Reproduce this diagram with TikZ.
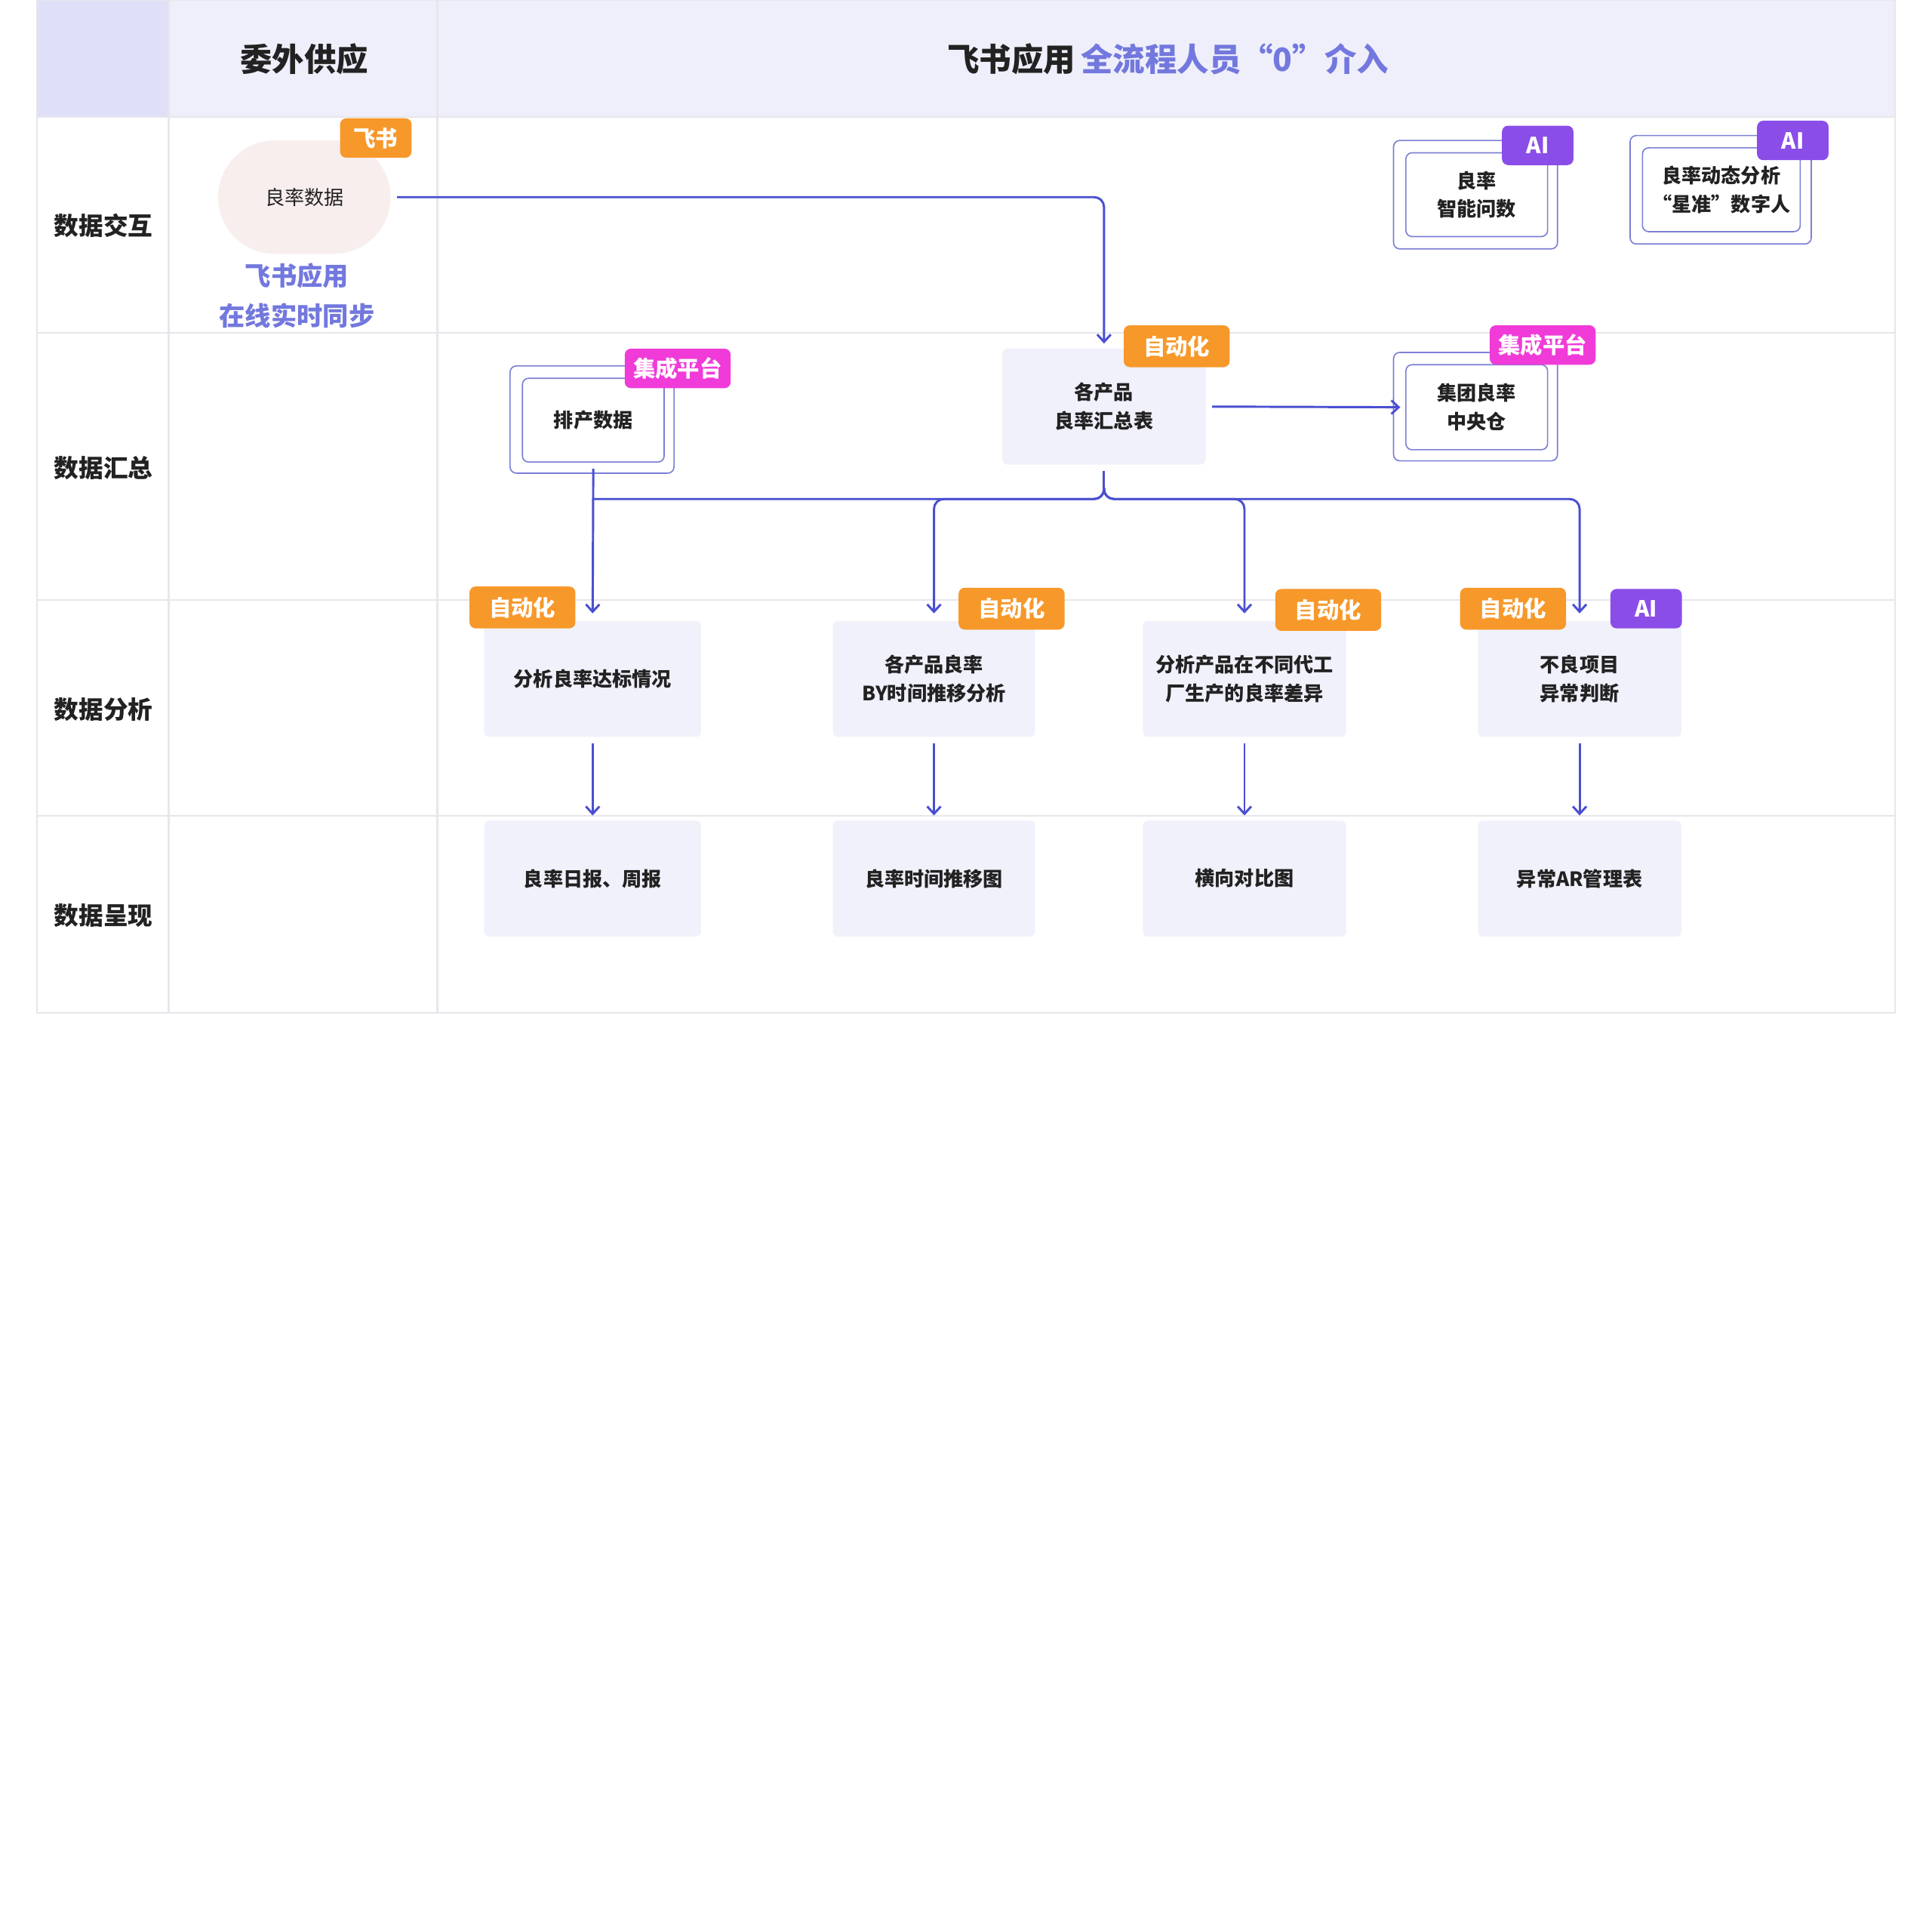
\documentclass[tikz,border=0pt]{standalone}
\usepackage{fontspec}
\setmainfont{Noto Sans CJK SC}
\usetikzlibrary{arrows.meta}
\definecolor{hdr}{HTML}{EEEFFA}
\definecolor{hdrd}{HTML}{DFE0F7}
\definecolor{grid}{HTML}{E6E6EC}
\definecolor{boxf}{HTML}{F0F1FA}
\definecolor{arr}{HTML}{4A4FD0}
\definecolor{org}{HTML}{F7982A}
\definecolor{mag}{HTML}{F03BD8}
\definecolor{pur}{HTML}{8A4DE8}
\definecolor{blue2}{HTML}{7378DE}
\definecolor{dbl}{HTML}{7B7FD4}
\definecolor{txt}{HTML}{222222}
\definecolor{blob}{HTML}{F9EEEE}
\begin{document}
\begin{tikzpicture}[x=1pt,y=-1pt,
 box/.style={fill=boxf,rounded corners=4pt,align=center,font=\fontsize{16}{23}\selectfont\bfseries,text=txt},
 tag/.style={rounded corners=5pt,text=white,font=\fontsize{18}{20}\selectfont\bfseries,minimum height=32pt,inner sep=0pt},
 lab/.style={font=\fontsize{20}{24}\selectfont\bfseries,text=txt},
 ar/.style={draw=arr,line width=1.8pt,-{Straight Barb[length=6pt,width=11pt]},rounded corners=8pt},
 ln/.style={draw=arr,line width=1.8pt,rounded corners=8pt}]
\useasboundingbox (0,0) rectangle (1568,1568);
\fill[white] (0,0) rectangle (1568,1568);
% table
\fill[hdr] (30,0) rectangle (1538,95);
\fill[hdrd] (30,0) rectangle (137,95);
\draw[grid,line width=1.5pt] (30,0) rectangle (1538,822);
\foreach \x in {137,355} \draw[grid,line width=1.5pt] (\x,0) -- (\x,822);
\foreach \y in {95,270,487,662} \draw[grid,line width=1.5pt] (30,\y) -- (1538,\y);
\node[font=\fontsize{26}{30}\selectfont\bfseries,text=txt] (h1) at (247,48) {委外供应};
\node[font=\fontsize{26}{30}\selectfont\bfseries,text=txt] (h2) at (948,48) {飞书应用\,\textcolor{blue2}{全流程人员“0”介入}};
\node[lab] (r1) at (84,183) {数据交互};
\node[lab] (r2) at (84,380) {数据汇总};
\node[lab] (r3) at (84,576) {数据分析};
\node[lab] (r4) at (84,743) {数据呈现};
% yield data blob
\node[fill=blob,rounded corners=46pt,minimum width=140pt,minimum height=92pt,font=\fontsize{16}{20}\selectfont,text=txt] (yd) at (247,160) {良率数据};
\node[tag,fill=org,minimum width=58pt] (tf) at (305,112) {飞书};
\node[font=\fontsize{21}{32}\selectfont\bfseries,text=blue2,align=center] (sync) at (241,240) {飞书应用\\在线实时同步};
% summary
\node[box,minimum width=165pt,minimum height=94pt] (sum) at (896,330) {各产品\\良率汇总表};
\node[tag,fill=org,minimum width=86pt,minimum height=34pt] (t1) at (955,281) {自动化};
% central warehouse
\draw[dbl,line width=1pt,rounded corners=5pt] (1131,286) rectangle (1264,374);
\node[draw=dbl,line width=1pt,rounded corners=5pt,minimum width=115pt,minimum height=69pt,align=center,font=\fontsize{16}{23}\selectfont\bfseries,text=txt] (wh) at (1198.5,330.5) {集团良率\\中央仓};
\node[tag,fill=mag,minimum width=86pt] (t2) at (1252,280) {集成平台};
% scheduling
\draw[dbl,line width=1pt,rounded corners=5pt] (414,297) rectangle (547,384);
\node[draw=dbl,line width=1pt,rounded corners=5pt,minimum width=115pt,minimum height=68pt,font=\fontsize{16}{23}\selectfont\bfseries,text=txt] (pc) at (481.5,341) {排产数据};
\node[tag,fill=mag,minimum width=86pt] (t3) at (550,299) {集成平台};
% AI boxes
\draw[dbl,line width=1pt,rounded corners=5pt] (1131,114) rectangle (1264,202);
\node[draw=dbl,line width=1pt,rounded corners=5pt,minimum width=115pt,minimum height=68pt,align=center,font=\fontsize{16}{23}\selectfont\bfseries,text=txt] (ai1) at (1198.5,158) {良率\\智能问数};
\node[tag,fill=pur,minimum width=58pt] (t4) at (1248,118) {AI};
\draw[dbl,line width=1pt,rounded corners=5pt] (1323,110) rectangle (1470,198);
\node[draw=dbl,line width=1pt,rounded corners=5pt,minimum width=128pt,minimum height=68pt,align=center,font=\fontsize{16}{23}\selectfont\bfseries,text=txt] (ai2) at (1397,154) {良率动态分析\\“星准”数字人};
\node[tag,fill=pur,minimum width=58pt] (t5) at (1455,114) {AI};
% analysis
\node[box,minimum width=176pt,minimum height=94pt] (a1) at (481,551) {分析良率达标情况};
\node[box,minimum width=164pt,minimum height=94pt] (a2) at (758,551) {各产品良率\\BY时间推移分析};
\node[box,minimum width=165pt,minimum height=94pt] (a3) at (1010,551) {分析产品在不同代工\\厂生产的良率差异};
\node[box,minimum width=165pt,minimum height=94pt] (a4) at (1282,551) {不良项目\\异常判断};
\node[tag,fill=org,minimum width=86pt,minimum height=34pt] (t6) at (424,493) {自动化};
\node[tag,fill=org,minimum width=86pt,minimum height=34pt] (t7) at (821,494) {自动化};
\node[tag,fill=org,minimum width=86pt,minimum height=34pt] (t8) at (1078,495) {自动化};
\node[tag,fill=org,minimum width=86pt,minimum height=34pt] (t9) at (1228,494) {自动化};
\node[tag,fill=pur,minimum width=58pt] (t10) at (1336,494) {AI};
% presentation
\node[box,minimum width=176pt,minimum height=94pt] (p1) at (481,713) {良率日报、周报};
\node[box,minimum width=164pt,minimum height=94pt] (p2) at (758,713) {良率时间推移图};
\node[box,minimum width=165pt,minimum height=94pt] (p3) at (1010,713) {横向对比图};
\node[box,minimum width=165pt,minimum height=94pt] (p4) at (1282,713) {异常AR管理表};
% connectors
\draw[ar] (yd.east) ++(5,0) -| ([yshift=4pt]sum.north);
\draw[ar] (sum.east) ++(5,0) -- ([xshift=-4pt]wh.west);
\draw[ln] (sum.south) ++(0,5) -- (896,396);
\draw[ar] (896,396) |- (758,405) -- ([yshift=6pt]a2.north);
\draw[ar] (896,396) |- (1010,405) -- ([yshift=6pt]a3.north);
\draw[ar] (896,396) |- (1282,405) -- ([yshift=6pt]a4.north);
\draw[ln] (896,396) |- (481,405);
\draw[ar] (pc.south) ++(0,5) -- ([yshift=6pt]a1.north);
\foreach \i in {1,2,3,4} \draw[ar] (a\i.south) ++(0,5) -- ([yshift=4pt]p\i.north);
\end{tikzpicture}
\end{document}
